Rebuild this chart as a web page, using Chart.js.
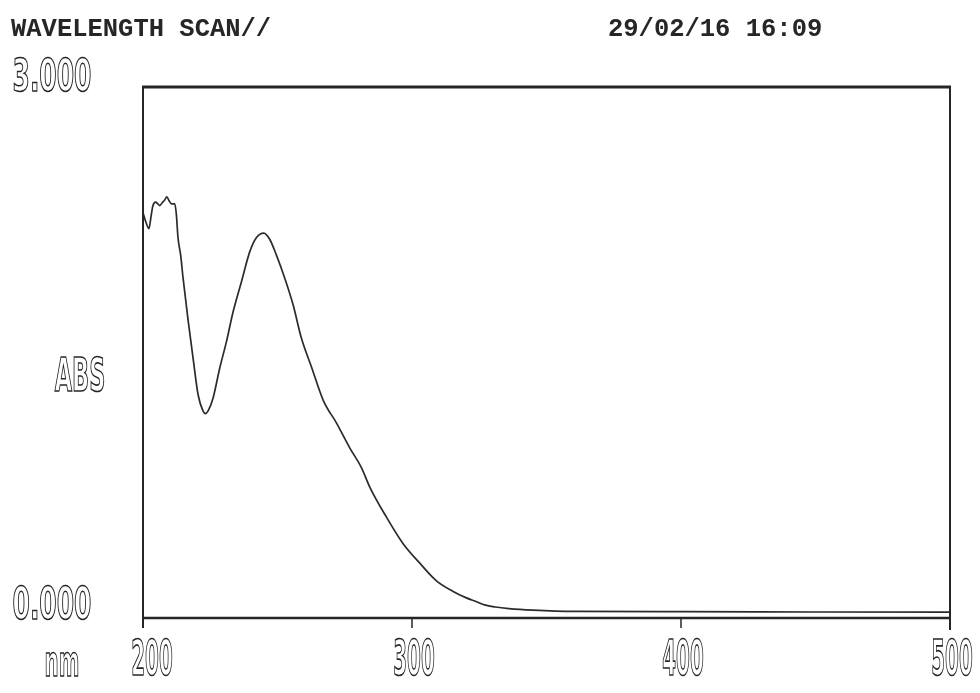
<!DOCTYPE html>
<html>
<head>
<meta charset="utf-8">
<script src="https://cdn.jsdelivr.net/npm/chart.js@4/dist/chart.umd.min.js"></script>
<style>
  html, body { margin: 0; padding: 0; background: #ffffff; }
  #wrap { position: relative; width: 980px; height: 693px; }
  canvas { position: absolute; left: 0; top: 0; }
  .hdr {
    position: absolute; top: 15px;
    font-family: "Liberation Mono", "DejaVu Sans Mono", monospace;
    font-weight: bold; font-size: 25.5px; color: #262626; white-space: nowrap;
  }
</style>
</head>
<body>
<div id="wrap">
  <canvas id="scan" width="980" height="693"></canvas>
  <div class="hdr" style="left:11px;">WAVELENGTH SCAN//</div>
  <div class="hdr" style="left:608px;">29/02/16 16:09</div>
</div>
<script>
// Wavelength scan: absorbance vs wavelength (nm)
const wavelengths = [
  200.0, 201.0, 202.2, 203.0, 203.7, 204.7, 205.5, 206.2, 207.3, 208.0,
  208.9, 209.6, 210.6, 211.8, 212.4, 213.0, 214.0, 214.9, 216.7, 218.6,
  220.5, 222.3, 223.2, 224.2, 226.0, 228.5, 231.0, 233.5, 236.6, 239.7,
  242.2, 244.9, 247.1, 249.6, 252.7, 255.8, 258.9, 262.6, 267.0, 272.0,
  276.9, 281.2, 284.3, 290.5, 296.7, 302.9, 309.1, 315.3, 320.0, 324.0,
  327.0, 331.0, 336.0, 345.0, 360.6, 400.0, 450.0, 500.0
];
const absorbance = [
  2.29, 2.24, 2.20, 2.27, 2.33, 2.35, 2.34, 2.33, 2.35, 2.36,
  2.38, 2.36, 2.34, 2.34, 2.28, 2.15, 2.05, 1.92, 1.69, 1.47,
  1.26, 1.17, 1.155, 1.17, 1.24, 1.41, 1.56, 1.73, 1.90, 2.07,
  2.15, 2.175, 2.14, 2.05, 1.92, 1.77, 1.58, 1.42, 1.23, 1.10,
  0.96, 0.85, 0.74, 0.57, 0.42, 0.31, 0.21, 0.15, 0.115, 0.092,
  0.074, 0.062, 0.053, 0.044, 0.037, 0.036, 0.034, 0.033
];
const xTicks = [200, 300, 400, 500];
const yTickLabels = { min: "0.000", max: "3.000" };
const xUnit = "nm";
const yTitle = "ABS";

const INK = "#262626";

// Tall, narrow outlined glyphs like a dot printer's big digits
function tallText(ctx, text, cx, cy, sx, sy) {
  ctx.save();
  ctx.translate(cx, cy);
  ctx.scale(sx, sy);
  ctx.font = "bold 32px 'DejaVu Sans'";
  ctx.textAlign = "center";
  ctx.textBaseline = "middle";
  ctx.lineWidth = 1.1;
  ctx.strokeStyle = INK;
  ctx.strokeText(text, 0, 0);
  ctx.restore();
}

const printFrame = {
  id: "printFrame",
  afterDatasetsDraw(chart) {
    const { ctx, scales: { x, y } } = chart;
    const yTop = y.getPixelForValue(3);
    const yBot = y.getPixelForValue(0);
    const xL = x.getPixelForValue(200);
    const xR = x.getPixelForValue(500);
    ctx.save();
    ctx.strokeStyle = INK;
    ctx.lineCap = "butt";
    // top edge
    ctx.lineWidth = 3;
    ctx.beginPath(); ctx.moveTo(xL - 1, yTop); ctx.lineTo(xR + 1, yTop); ctx.stroke();
    // side edges, running a little below the axis
    ctx.lineWidth = 2;
    ctx.beginPath(); ctx.moveTo(xL, yTop); ctx.lineTo(xL, yBot + 10); ctx.stroke();
    ctx.beginPath(); ctx.moveTo(xR, yTop); ctx.lineTo(xR, yBot + 12); ctx.stroke();
    // baseline axis
    ctx.lineWidth = 2.5;
    ctx.beginPath(); ctx.moveTo(xL, yBot); ctx.lineTo(xR, yBot); ctx.stroke();
    // inner tick marks
    ctx.lineWidth = 1.5;
    xTicks.slice(1, -1).forEach(v => {
      const px = x.getPixelForValue(v);
      ctx.beginPath(); ctx.moveTo(px, yBot); ctx.lineTo(px, yBot + 10); ctx.stroke();
    });
    // tick labels (the first one sits just inside the frame corner)
    xTicks.forEach((v, i) => {
      const shift = i === 0 ? 9 : 2;
      tallText(ctx, String(v), x.getPixelForValue(v) + shift, yBot + 44, 0.62, 1.55);
    });
    tallText(ctx, xUnit, 62, yBot + 47, 0.62, 1.35);
    tallText(ctx, yTickLabels.max, 52, yTop - 8, 0.78, 1.4);
    tallText(ctx, yTickLabels.min, 52, yBot - 11, 0.78, 1.4);
    tallText(ctx, yTitle, 80, y.getPixelForValue(1.35), 0.7, 1.45);
    ctx.restore();
  }
};

new Chart(document.getElementById("scan"), {
  type: "line",
  data: {
    datasets: [{
      data: wavelengths.map((w, i) => ({ x: w, y: absorbance[i] })),
      borderColor: "#2b2b2b",
      borderWidth: 1.7,
      pointRadius: 0,
      cubicInterpolationMode: "monotone",
      fill: false
    }]
  },
  options: {
    responsive: false,
    animation: false,
    devicePixelRatio: 1,
    layout: { padding: { left: 143, top: 87, right: 30, bottom: 75 } },
    plugins: { legend: { display: false }, tooltip: { enabled: false } },
    scales: {
      x: { type: "linear", min: 200, max: 500, display: false },
      y: { type: "linear", min: 0, max: 3, display: false }
    }
  },
  plugins: [printFrame]
});
</script>
</body>
</html>
